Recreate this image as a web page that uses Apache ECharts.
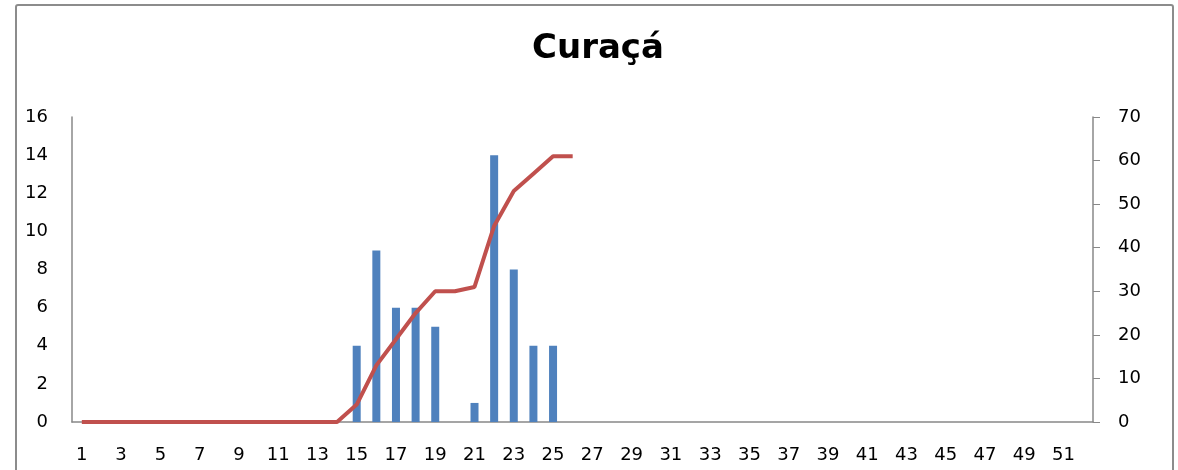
<!DOCTYPE html>
<html>
<head>
<meta charset="utf-8">
<script src="https://cdn.jsdelivr.net/npm/echarts@6/dist/echarts.min.js"></script>
<style>
html,body{margin:0;padding:0;background:#fff;}
#frame{position:absolute;left:15px;top:4px;width:1159px;height:480px;border:2px solid #8c8c8c;border-radius:3px;box-sizing:border-box;}
#chart{position:absolute;left:0;top:0;width:1178px;height:470px;}
</style>
</head>
<body>
<div id="frame"></div>
<div id="chart"></div>
<script>
const title = "Curaçá";
const weeks = [];
for (let i = 1; i <= 52; i++) weeks.push(String(i));
const weeklyCases = [0,0,0,0,0,0,0,0,0,0,0,0,0,0,4,9,6,6,5,0,1,14,8,4,4];
const cumulativeCases = [0,0,0,0,0,0,0,0,0,0,0,0,0,0,4,13,19,25,30,30,31,45,53,57,61,61];

const chart = echarts.init(document.getElementById('chart'));
const labelFont = {fontFamily:'DejaVu Sans', fontSize:18, color:'#000'};
chart.setOption({
  backgroundColor:'transparent',
  animation:false,
  title:{text:title,left:527,top:27,
    textStyle:{fontFamily:'DejaVu Sans',fontWeight:'bold',fontSize:34,color:'#000'}},
  grid:{left:72,right:85,top:117,bottom:48,containLabel:false},
  xAxis:{type:'category',data:weeks,boundaryGap:true,
    axisLine:{lineStyle:{color:'#888',width:1.5}},
    axisTick:{show:false},
    axisLabel:Object.assign({interval:1,margin:24},labelFont),
    splitLine:{show:false}},
  yAxis:[
    {type:'value',min:0,max:16,interval:2,position:'left',
     axisLine:{show:true,lineStyle:{color:'#888',width:1.5}},
     axisTick:{show:false},
     axisLabel:Object.assign({margin:24},labelFont),
     splitLine:{show:false}},
    {type:'value',min:0,max:70,interval:10,position:'right',
     axisLine:{show:true,lineStyle:{color:'#888',width:1.5}},
     axisTick:{show:true,length:7,lineStyle:{color:'#888'}},
     axisLabel:Object.assign({margin:25},labelFont),
     splitLine:{show:false}}
  ],
  series:[
    {type:'bar',data:weeklyCases,yAxisIndex:0,barWidth:8,
     itemStyle:{color:'#4F81BD'}},
    {type:'line',data:cumulativeCases,yAxisIndex:1,symbol:'none',
     lineStyle:{color:'#C0504D',width:4},z:5}
  ]
});
</script>
</body>
</html>
